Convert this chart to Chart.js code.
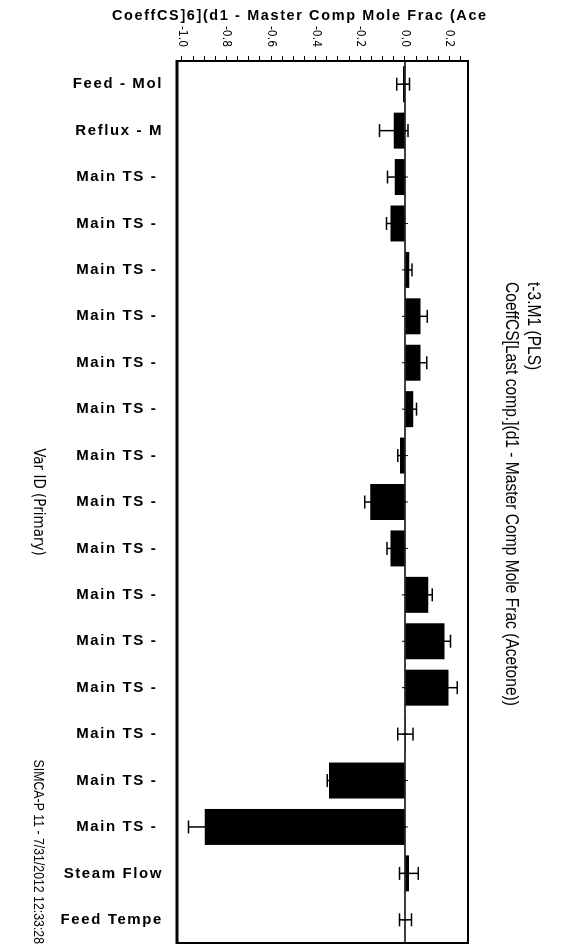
<!DOCTYPE html>
<html>
<head>
<meta charset="utf-8">
<title>CoeffCS - t-3.M1 (PLS)</title>
<script src="https://cdn.jsdelivr.net/npm/chart.js@4.4.1/dist/chart.umd.min.js"></script>
<style>
  html, body { margin: 0; padding: 0; background: #fff; width: 562px; height: 946px; overflow: hidden; }
  /* The plot is laid out as a column chart and turned a quarter turn clockwise,
     the way the SIMCA-P printout presents it. */
  #wrap {
    position: absolute; left: 0; top: 0;
    width: 946px; height: 562px;
    transform-origin: 0 0;
    transform: translateX(562px) rotate(90deg);
  }
  canvas { display: block; }
</style>
</head>
<body>
<div id="wrap"><canvas id="chart" width="946" height="562"></canvas></div>
<script>
// ---- data ----
const categories = [
  'Feed - Mol', 'Reflux - M',
  'Main TS - ', 'Main TS - ', 'Main TS - ', 'Main TS - ', 'Main TS - ',
  'Main TS - ', 'Main TS - ', 'Main TS - ', 'Main TS - ', 'Main TS - ',
  'Main TS - ', 'Main TS - ', 'Main TS - ', 'Main TS - ', 'Main TS - ',
  'Steam Flow', 'Feed Tempe'
];
const coefficients = [
  -0.008, -0.050,
  -0.045, -0.065, 0.020, 0.070, 0.070,
  0.037, -0.022, -0.155, -0.065, 0.105,
  0.178, 0.195, 0.002, -0.340, -0.898,
  0.018, 0.003
];
const confidence = [
  0.029, 0.064,
  0.033, 0.018, 0.012, 0.030, 0.028,
  0.015, 0.010, 0.025, 0.015, 0.018,
  0.026, 0.040, 0.034, 0.008, 0.072,
  0.042, 0.027
];
const valueTickLabels = ['-1.0', '-0.8', '-0.6', '-0.4', '-0.2', '0.0', '0.2'];
const valueMin = -1.022;
const valueMax = 0.283;
const minorStep = 0.05;

const titleLines = ['t-3.M1 (PLS)', 'CoeffCS[Last comp.](d1 - Master Comp Mole Frac (Acetone))'];
const valueAxisTitle = 'CoeffCS]6](d1 - Master Comp Mole Frac (Ace';
const categoryAxisTitle = 'Var ID (Primary)';
const footerText = 'SIMCA-P 11 - 7/31/2012 12:33:28';

// ---- styling ----
const WIDE = '"Liberation Sans", Arial, Helvetica, sans-serif';
const CONDENSED = '"DejaVu Sans Condensed", "Liberation Sans", sans-serif';
const NARROW_SCALE = 0.82;   // horizontal squeeze for the narrow title face
const INK = '#000';

// tick positions every 0.05 between the labelled values
const valueTicks = [];
for (let v = -1.0; v <= valueMax + 1e-9; v += minorStep) valueTicks.push(Math.round(v * 100) / 100);
const majorValues = valueTickLabels.map(Number);
function valueLabel(v) {
  const k = majorValues.findIndex(m => Math.abs(m - v) < 1e-6);
  return k >= 0 ? valueTickLabels[k] : '';
}

// draw text in a horizontally squeezed Arial-like face
function narrowText(ctx, text, x, y, size, align) {
  ctx.save();
  ctx.translate(x, y);
  ctx.scale(NARROW_SCALE, 1);
  ctx.font = size + 'px ' + WIDE;
  ctx.textAlign = align;
  ctx.textBaseline = 'middle';
  ctx.fillText(text, 0, 0);
  ctx.restore();
}

// category labels are printed with wide letter spacing
const spacedCategoryLabels = {
  id: 'spacedCategoryLabels',
  beforeDraw(chart) {
    const sc = chart.scales.x;
    if (sc && !sc._spaced) {
      const draw = sc.drawLabels;
      sc.drawLabels = function (area) {
        const ctx = this.ctx;
        ctx.save();
        ctx.letterSpacing = '1.6px';
        draw.call(this, area);
        ctx.restore();
      };
      sc._spaced = true;
    }
  }
};

// zero axis with category ticks, and the confidence intervals
const intervals = {
  id: 'intervals',
  afterDatasetsDraw(chart) {
    const { ctx, chartArea: a, scales: { x, y } } = chart;
    const y0 = y.getPixelForValue(0);
    ctx.save();
    ctx.strokeStyle = INK;
    ctx.lineWidth = 1.5;
    ctx.beginPath();
    ctx.moveTo(a.left, y0);
    ctx.lineTo(a.right, y0);
    ctx.stroke();
    ctx.lineWidth = 1;
    categories.forEach((c, i) => {
      const px = x.getPixelForValue(i);
      ctx.beginPath();
      ctx.moveTo(px, y0 - 3);
      ctx.lineTo(px, y0 + 3);
      ctx.stroke();
    });
    ctx.lineWidth = 1.5;
    const cap = 6.5;
    chart.getDatasetMeta(0).data.forEach((bar, i) => {
      const cx = bar.x;
      const lo = y.getPixelForValue(coefficients[i] - confidence[i]);
      const hi = y.getPixelForValue(coefficients[i] + confidence[i]);
      ctx.beginPath();
      ctx.moveTo(cx, lo); ctx.lineTo(cx, hi);
      ctx.moveTo(cx - cap, lo); ctx.lineTo(cx + cap, lo);
      ctx.moveTo(cx - cap, hi); ctx.lineTo(cx + cap, hi);
      ctx.stroke();
    });
    ctx.restore();
  }
};

// plot frame, titles and footer
const frameAndText = {
  id: 'frameAndText',
  afterDraw(chart) {
    const { ctx, chartArea: a } = chart;
    ctx.save();
    ctx.strokeStyle = INK;
    ctx.lineWidth = 2;
    ctx.strokeRect(a.left, a.top, a.right - a.left, a.bottom - a.top);
    // heavier line along the category side
    ctx.lineWidth = 3;
    ctx.beginPath();
    ctx.moveTo(a.left - 1, a.bottom);
    ctx.lineTo(a.right + 1, a.bottom);
    ctx.stroke();

    ctx.fillStyle = INK;
    // value axis title
    ctx.save();
    ctx.translate(16, 450);
    ctx.rotate(-Math.PI / 2);
    ctx.font = 'bold 14.5px ' + WIDE;
    ctx.letterSpacing = '1.6px';
    ctx.textAlign = 'left';
    ctx.textBaseline = 'middle';
    ctx.fillText(valueAxisTitle, 0, 0);
    ctx.restore();

    // two-line title, lines share a left edge
    const titleSize = 19;
    const titleLeft = 282;
    narrowText(ctx, titleLines[0], titleLeft, 29, titleSize, 'left');
    narrowText(ctx, titleLines[1], titleLeft, 51, titleSize, 'left');

    // footer
    narrowText(ctx, footerText, 944, 524, 15, 'right');
    ctx.restore();
  }
};

new Chart(document.getElementById('chart'), {
  type: 'bar',
  data: {
    labels: categories,
    datasets: [{
      data: coefficients,
      backgroundColor: INK,
      borderWidth: 0,
      barPercentage: 0.775,
      categoryPercentage: 1.0
    }]
  },
  options: {
    responsive: false,
    animation: false,
    devicePixelRatio: 1,
    layout: { padding: { top: 94, right: 3, bottom: 0, left: 0 } },
    plugins: {
      legend: { display: false },
      title: { display: false },
      tooltip: { enabled: false }
    },
    scales: {
      x: {
        position: 'bottom',
        afterFit(scale) { scale.height = 177; },
        grid: { display: false },
        border: { display: false },
        ticks: {
          autoSkip: false,
          minRotation: 90,
          maxRotation: 90,
          padding: 6,
          color: INK,
          font: { family: WIDE, size: 15, weight: 'bold' }
        },
        title: {
          display: true,
          text: categoryAxisTitle,
          color: INK,
          font: { family: CONDENSED, size: 15 },
          padding: { top: 0, bottom: 29 }
        }
      },
      y: {
        position: 'left',
        min: valueMin,
        max: valueMax,
        afterFit(scale) { scale.width = 61; },
        afterBuildTicks(scale) { scale.ticks = valueTicks.map(v => ({ value: v })); },
        grid: {
          display: true,
          drawOnChartArea: false,
          drawTicks: true,
          tickLength: 5,
          tickColor: INK,
          tickWidth: 1
        },
        border: { display: false },
        ticks: {
          autoSkip: false,
          padding: 9,
          color: INK,
          font: { family: CONDENSED, size: 12 },
          callback: (v) => valueLabel(v)
        }
      }
    }
  },
  plugins: [spacedCategoryLabels, intervals, frameAndText]
});
</script>
</body>
</html>
